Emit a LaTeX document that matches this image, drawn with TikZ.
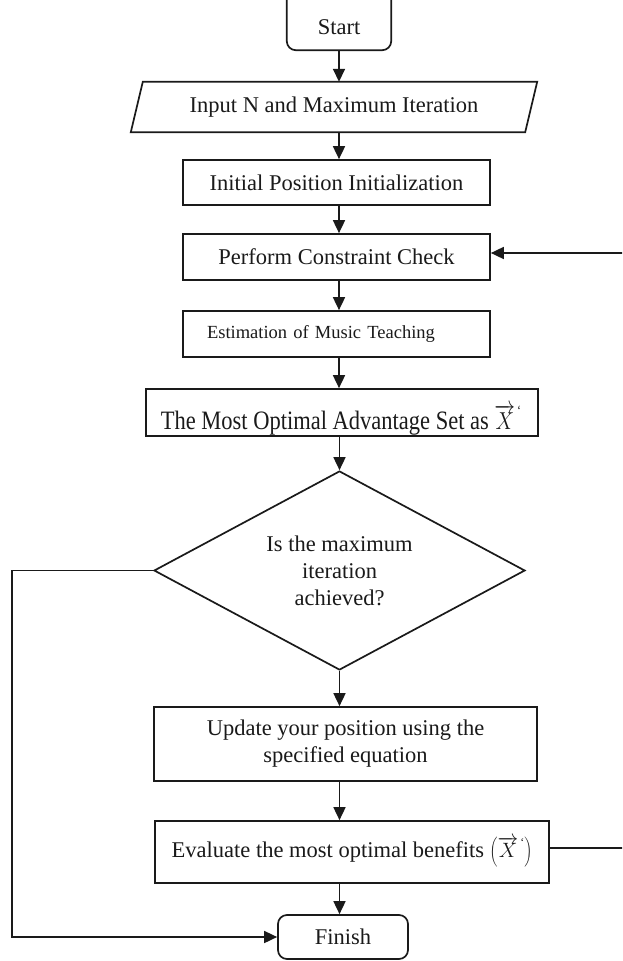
\documentclass[tikz,border=0pt]{standalone}
\usepackage{fontspec}
\setmainfont{Liberation Serif}
\usetikzlibrary{shapes.geometric,arrows.meta}
\definecolor{ink}{HTML}{1A1A1A}
\tikzset{
  base/.style={font=\fontsize{22.5}{27}\selectfont, text=ink},
  box/.style={base, draw=ink, line width=1.7pt, rectangle, inner sep=0pt, align=center},
  plain/.style={base, inner sep=0pt, align=center},
  decision/.style={base, draw=ink, line width=1.7pt, diamond, inner sep=0pt, align=center, aspect=1.864},
  arr/.style={draw=ink, line width=1.7pt, -{Triangle[length=13pt,width=12pt]}},
  edge/.style={draw=ink, line width=1.7pt},
}
\newcommand{\vecX}{\overrightarrow{X}\kern2pt\raisebox{0.5em}{\fontsize{12}{12}\selectfont `}}
\begin{document}
\begin{tikzpicture}[x=1pt,y=-1pt]
\useasboundingbox (0,0) rectangle (622,961);
\clip (0,0) rectangle (622,961);
\fill[white] (0,0) rectangle (622,961);

% Start (top cut off)
\node[plain, minimum width=104pt, minimum height=46pt] (start) at (339,27) {Start};
\draw[edge, rounded corners=9pt] ([yshift=30pt]start.north west) |- (start.south east) -- ([yshift=30pt]start.north east);

% Input parallelogram
\node[plain, minimum width=394pt, minimum height=50pt] (input) at (334,107) {Input N and Maximum Iteration};
\draw[edge] ([xshift=6pt]input.north west) -- ([xshift=6pt]input.north east) -- ([xshift=-6pt]input.south east) -- ([xshift=-6pt]input.south west) -- cycle;

\node[box, minimum width=307pt, minimum height=45pt] (init) at (336.5,182.5) {Initial Position Initialization};
\node[box, minimum width=307pt, minimum height=46pt] (check) at (336.5,257) {Perform Constraint Check};
\node[box, font=\fontsize{18.5}{22}\selectfont, text width=259pt, align=left, inner xsep=24pt, minimum height=46pt] (est) at (336.5,334) {Estimation of Music Teaching};

\node[box, minimum width=392pt, minimum height=47pt] (opt) at (342,412.5) {};
\begin{scope}
\clip (opt.south west) rectangle (opt.north east);
\node[plain, anchor=base] (opttext) at (341,429) {\scalebox{1}[1.18]{The Most Optimal Advantage Set as $\vecX$}};
\end{scope}

\node[decision, minimum width=371pt, minimum height=199pt] (dec) at (339.5,570.5) {Is the maximum\\iteration\\achieved?};

\node[box, minimum width=383pt, minimum height=74pt] (upd) at (345.5,744) {Update your position using the\\specified equation};
\node[box, minimum width=394pt, minimum height=62pt] (eval) at (352,852) {Evaluate the most optimal benefits $\left(\vecX\right)$};
\node[box, rounded corners=9pt, minimum width=130pt, minimum height=44pt] (fin) at (343,937) {Finish};

% connectors
\draw[arr] (start.south) -- (start.south |- input.north);
\draw[arr] (input.south -| start) -- (init.north -| start);
\draw[arr] (init.south -| start) -- (check.north -| start);
\draw[arr] (check.south -| start) -- (est.north -| start);
\draw[arr] (est.south -| start) -- (opt.north -| start);
\draw[arr] (opt.south -| dec.north) -- (dec.north);
\draw[arr] (dec.south) -- (upd.north -| dec.south);
\draw[arr] (upd.south -| dec.south) -- (eval.north -| dec.south);
\draw[arr] (eval.south -| dec.south) -- (fin.north -| dec.south);

\coordinate (lft) at (12,570.5);
\draw[arr] (dec.west) -- (lft) |- (fin.west);

\coordinate (rb) at (645,848);
\coordinate (rt) at (645,253);
\draw[arr] (eval.east |- rb) -- (rb) -- (rt) -- (check.east |- rt);
\end{tikzpicture}
\end{document}
